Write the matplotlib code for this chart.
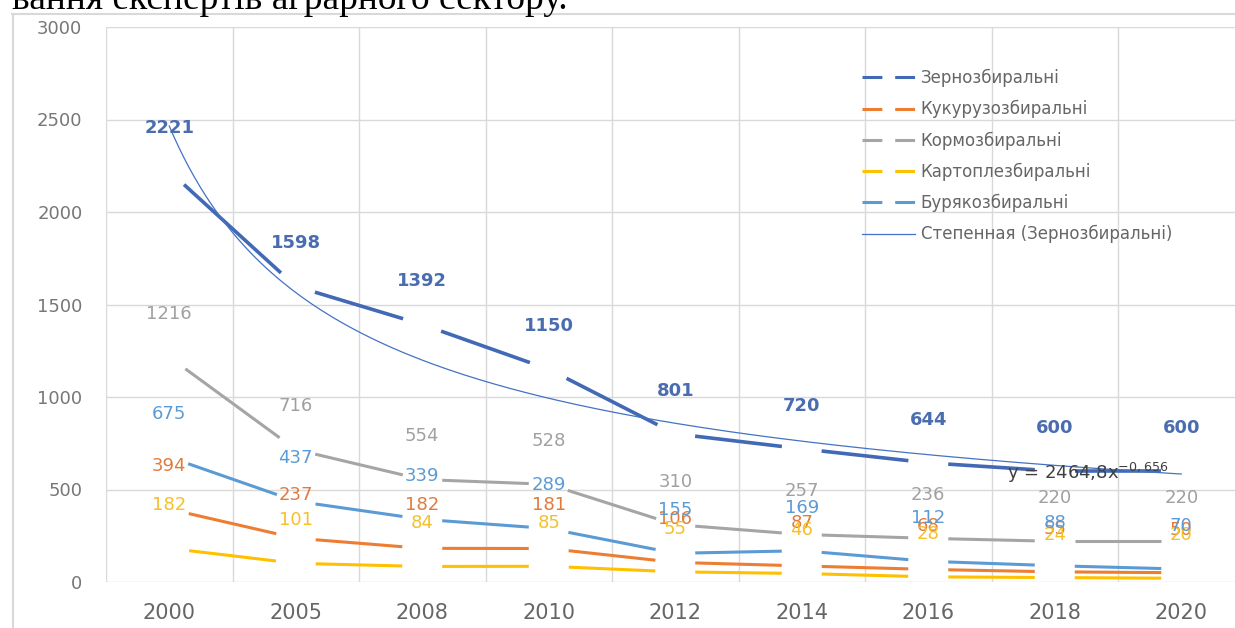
import numpy as np
import matplotlib.pyplot as plt
from matplotlib.lines import Line2D

# ---- data ----
years = ['2000', '2005', '2008', '2010', '2012', '2014', '2016', '2018', '2020']
grain = [2221, 1598, 1392, 1150, 801, 720, 644, 600, 600]
corn = [394, 237, 182, 181, 106, 87, 68, 55, 50]
forage = [1216, 716, 554, 528, 310, 257, 236, 220, 220]
potato = [182, 101, 84, 85, 55, 46, 28, 24, 20]
beet = [675, 437, 339, 289, 155, 169, 112, 88, 70]

names = ['Зернозбиральні', 'Кукурузозбиральні', 'Кормозбиральні',
         'Картоплезбиральні', 'Бурякозбиральні']
colors = ['#4169B5', '#ED7D31', '#A5A5A5', '#FFC000', '#5B9BD5']
label_colors = ['#4A6DB0', '#E07B3C', '#A0A0A0', '#F5C02A', '#5B9BD5']
series = [grain, corn, forage, potato, beet]
trend_name = 'Степенная (Зернозбиральні)'

W, H = 1235, 628
fig = plt.figure(figsize=(W / 100, H / 100), dpi=100)

# header text from the surrounding document (cut at the top edge)
fig.text(12 / W, 1 - 9 / H, 'вання експертів аграрного сектору.',
         family='Liberation Serif', fontsize=27, color='black',
         ha='left', va='baseline')

# chart frame
fig.add_artist(Line2D([12 / W, 1], [1 - 14 / H, 1 - 14 / H],
                      color='#D9D9D9', lw=1.5, transform=fig.transFigure))
fig.add_artist(Line2D([13 / W, 13 / W], [0, 1 - 14 / H],
                      color='#D9D9D9', lw=1.5, transform=fig.transFigure))

ax = fig.add_axes([106 / W, 1 - 582 / H, 1138.5 / W, 555 / H])
x = np.arange(len(years))
ax.set_xlim(-0.5, len(years) - 0.5)
ax.set_ylim(0, 3000)

for s in ax.spines.values():
    s.set_visible(False)
ax.set_yticks(np.arange(0, 3001, 500))
ax.set_xticks(x)
ax.set_xticklabels(years)
ax.set_xticks(np.arange(-0.5, len(years), 1), minor=True)
ax.grid(axis='y', which='major', color='#D9D9D9', lw=1)
ax.grid(axis='x', which='minor', color='#D9D9D9', lw=1)
ax.tick_params(which='both', length=0)
ax.tick_params(axis='y', labelsize=13, labelcolor='#777777', pad=17)
ax.tick_params(axis='x', labelsize=15, labelcolor='#666666', pad=15)
ax.set_axisbelow(True)

# lines: each segment is drawn with a gap around the data points
gap = 20  # px
to_px = ax.transData
to_data = ax.transData.inverted()
for vals, c in zip(series, colors):
    lw = 2.6 if vals is grain else 2.2
    pts = to_px.transform(np.column_stack([x, vals]))
    for i in range(len(pts) - 1):
        d = pts[i + 1] - pts[i]
        u = d / np.hypot(*d)
        seg = to_data.transform([pts[i] + u * gap, pts[i + 1] - u * gap])
        ax.plot(seg[:, 0], seg[:, 1], color=c, lw=lw, solid_capstyle='butt', zorder=3)

# power trendline for grain harvesters
xt = x + 1
b, log_a = np.polyfit(np.log(xt), np.log(grain), 1)
a = np.exp(log_a)
xs = np.linspace(1, len(years), 200)
ax.plot(xs - 1, a * xs ** b, color='#4472C4', lw=0.9, zorder=4)
eq = ('y = ' + f'{a:.1f}'.replace('.', ',') + 'x$^{' +
      f'{b:.3f}'.replace('.', ',') + '}$')
ax.text(6.62, 589, eq, fontsize=13, color='#404040', ha='left', va='center', zorder=5)

# data labels above the points
for vals, c in zip(series, label_colors):
    weight = 'bold' if vals is grain else 'normal'
    for xi, v in zip(x, vals):
        ax.annotate(str(v), (xi, v), xytext=(0, 31), textcoords='offset points',
                    ha='center', va='center', fontsize=13, color=c,
                    fontweight=weight, zorder=6)

# legend
handles = [Line2D([], [], color=c, lw=2.2, linestyle=(0, (6.5, 4.2)))
           for c in colors]
handles.append(Line2D([], [], color='#4472C4', lw=0.9))
leg = fig.legend(handles, names + [trend_name], loc='upper left',
                 bbox_to_anchor=(862 / W, 1 - 69 / H), frameon=False,
                 fontsize=12, labelcolor='#666666', handlelength=3.18,
                 handletextpad=0.35, labelspacing=0.78, borderpad=0,
                 borderaxespad=0)

fig.savefig('out.png', dpi=100)
